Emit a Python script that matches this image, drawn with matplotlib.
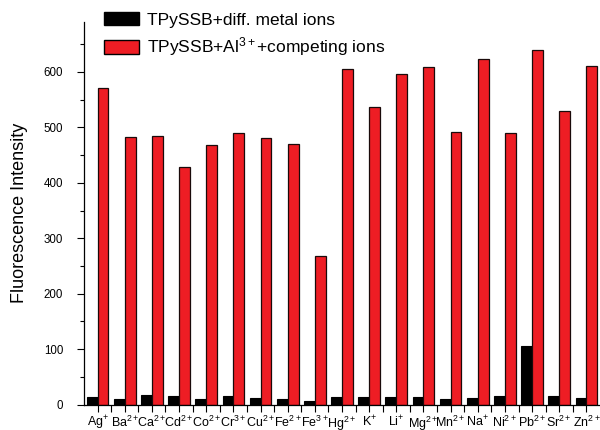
import numpy as np
import matplotlib
matplotlib.use("Agg")
import matplotlib.pyplot as plt
from matplotlib.ticker import MultipleLocator, FixedLocator

plt.rcParams['font.family'] = ['Liberation Sans', 'DejaVu Sans']
plt.rcParams['mathtext.fontset'] = 'custom'
plt.rcParams['mathtext.rm'] = 'Liberation Sans'
plt.rcParams['mathtext.it'] = 'Liberation Sans:italic'
plt.rcParams['mathtext.bf'] = 'Liberation Sans:bold'

ions = ['Ag$^{+}$', 'Ba$^{2+}$', 'Ca$^{2+}$', 'Cd$^{2+}$', 'Co$^{2+}$', 'Cr$^{3+}$',
        'Cu$^{2+}$', 'Fe$^{2+}$', 'Fe$^{3+}$', 'Hg$^{2+}$', 'K$^{+}$', 'Li$^{+}$',
        'Mg$^{2+}$', 'Mn$^{2+}$', 'Na$^{+}$', 'Ni$^{2+}$', 'Pb$^{2+}$', 'Sr$^{2+}$',
        'Zn$^{2+}$']
metal_only = [14, 10.5, 16.5, 15.5, 10, 15.5, 12, 9.5, 6, 14, 13, 13, 13.5,
              10.5, 12, 15, 106, 16, 12]
with_al = [571, 482, 484, 429, 468, 489, 480, 470, 268, 605, 537, 597, 608,
           491, 623, 490, 639, 530, 610]

x = np.arange(len(ions))
w = 0.4

fig = plt.figure(figsize=(6, 4.3), dpi=100)
ax = fig.add_axes([0.14, 0.059, 0.86, 0.89])

ax.bar(x - w / 2, metal_only, width=w, color='black', edgecolor='black',
       linewidth=0.8, label='TPySSB+diff. metal ions')
ax.bar(x + w / 2, with_al, width=w, color='#EE1D24', edgecolor='#1a0a0a',
       linewidth=0.9, label='TPySSB+Al$^{3+}$+competing ions')

ax.set_xlim(-0.5, 18.5)
ax.set_ylim(0, 690)

ax.set_xticks(x)
ax.set_xticklabels(ions, fontsize=9)
ax.xaxis.set_minor_locator(FixedLocator(x[:-1] + 0.5))
ax.yaxis.set_major_locator(MultipleLocator(100))
ax.yaxis.set_minor_locator(MultipleLocator(50))
ax.tick_params(axis='y', which='major', length=5, width=0.8, labelsize=8.3, pad=10)
ax.tick_params(axis='y', which='minor', length=3, width=0.8)
ax.tick_params(axis='x', which='both', length=5, width=0.8, pad=2)

for s in ['top', 'right']:
    ax.spines[s].set_visible(False)
for s in ['left', 'bottom']:
    ax.spines[s].set_linewidth(0.9)

ax.set_ylabel('Fluorescence Intensity', fontsize=13, labelpad=11)

leg = ax.legend(loc='upper left', bbox_to_anchor=(0.025, 1.045), frameon=False,
                fontsize=12.5, handlelength=2.0, handleheight=0.85,
                handletextpad=0.5, labelspacing=0.45, borderaxespad=0.0)
for h in leg.legend_handles:
    h.set_edgecolor('black')
    h.set_linewidth(1.0)

fig.savefig('out.png', dpi=100)
